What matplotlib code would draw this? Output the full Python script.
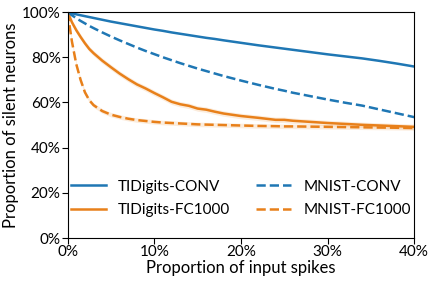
import matplotlib.pyplot as plt
from matplotlib.ticker import FuncFormatter

plt.rcParams['font.family'] = ['Lato', 'DejaVu Sans']

# proportion of input spikes (%)
x = [0, 0.5, 1, 1.5, 2, 2.5, 3, 4, 5, 6, 7, 8, 9, 10, 11, 12, 13, 14, 15, 16,
     17, 18, 20, 22, 24, 25, 26, 28, 30, 32, 34, 36, 38, 40]

tidigits_conv = [100, 99.5, 99.0, 98.6, 98.2, 97.8, 97.4, 96.6, 95.8, 95.1, 94.4, 93.7,
                 93.0, 92.3, 91.7, 91.0, 90.4, 89.8, 89.2, 88.6, 88.1, 87.5, 86.4,
                 85.3, 84.3, 83.8, 83.3, 82.3, 81.3, 80.4, 79.5, 78.4, 77.2, 75.9]

mnist_conv = [100, 98.6, 97.3, 96.1, 95.0, 93.9, 92.9, 91.0, 89.2, 87.5, 85.9, 84.3,
              82.8, 81.4, 80.0, 78.7, 77.4, 76.2, 75.0, 73.9, 72.8, 71.7, 69.7,
              67.8, 66.0, 65.2, 64.3, 62.8, 61.3, 59.9, 58.6, 56.9, 55.2, 53.5]

tidigits_fc = [100, 95.5, 92.0, 89.0, 86.2, 83.7, 81.8, 78.5, 75.6, 72.8, 70.3, 68.0,
               66.2, 64.2, 62.3, 60.3, 59.2, 58.5, 57.3, 56.8, 55.9, 55.1, 54.0,
               53.2, 52.3, 52.3, 51.9, 51.4, 50.9, 50.5, 50.1, 49.8, 49.5, 49.2]

mnist_fc = [100, 87.0, 77.0, 70.0, 64.5, 61.0, 58.8, 56.2, 54.6, 53.6, 52.8, 52.2,
            51.8, 51.4, 51.1, 50.9, 50.7, 50.5, 50.3, 50.2, 50.1, 50.0, 49.8,
            49.6, 49.5, 49.4, 49.4, 49.3, 49.2, 49.1, 49.0, 48.9, 48.8, 48.7]

blue = '#1f77b4'
orange = '#e8801a'

fig, ax = plt.subplots(figsize=(4.36, 2.81), dpi=100)

ax.plot(x, tidigits_conv, color=blue, lw=1.8, label='TIDigits-CONV')
ax.fill_between(x, [v - 1.2 for v in tidigits_fc], [v + 1.2 for v in tidigits_fc],
                color=orange, alpha=0.15, lw=0)
ax.plot(x, tidigits_fc, color=orange, lw=1.8, label='TIDigits-FC1000')
ax.plot(x, mnist_conv, color=blue, lw=1.8, ls='--', label='MNIST-CONV')
ax.fill_between(x, [v - 1.0 for v in mnist_fc], [v + 1.0 for v in mnist_fc],
                color=orange, alpha=0.15, lw=0)
ax.plot(x, mnist_fc, color=orange, lw=1.8, ls='--', label='MNIST-FC1000')

ax.set_xlim(0, 40)
ax.set_ylim(0, 100)
ax.set_xticks([0, 10, 20, 30, 40])
ax.set_yticks([0, 20, 40, 60, 80, 100])
pct = FuncFormatter(lambda v, p: '%d%%' % v)
ax.xaxis.set_major_formatter(pct)
ax.yaxis.set_major_formatter(pct)
ax.tick_params(labelsize=11, length=4, pad=1)
ax.set_xlabel('Proportion of input spikes', fontsize=12, labelpad=1)
ax.set_ylabel('Proportion of silent neurons', fontsize=12, labelpad=2)

ax.legend(ncol=2, frameon=False, fontsize=11, loc='lower center',
          bbox_to_anchor=(0.5, 0.03), columnspacing=1.7, handlelength=2.3,
          handletextpad=0.8, labelspacing=0.65)

fig.subplots_adjust(left=0.155, right=0.95, top=0.957, bottom=0.153)
fig.savefig('out.png', dpi=100)
